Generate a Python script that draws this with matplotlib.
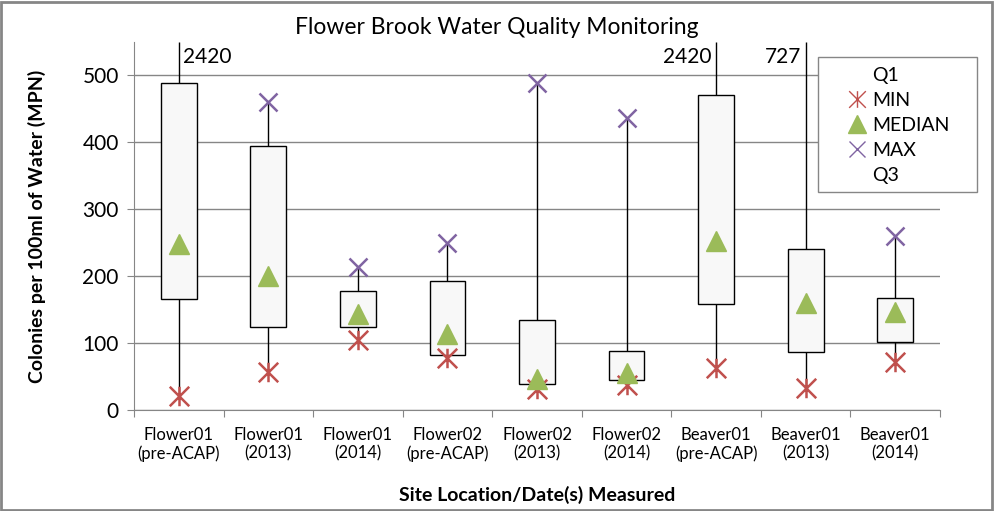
import matplotlib.pyplot as plt
import numpy as np
from matplotlib.path import Path
from matplotlib.patches import Rectangle
from matplotlib.lines import Line2D

plt.rcParams['font.family'] = ['Lato', 'DejaVu Sans']

# Data
sites = ['Flower01\n(pre-ACAP)', 'Flower01\n(2013)', 'Flower01\n(2014)',
         'Flower02\n(pre-ACAP)', 'Flower02\n(2013)', 'Flower02\n(2014)',
         'Beaver01\n(pre-ACAP)', 'Beaver01\n(2013)', 'Beaver01\n(2014)']
q1 = [166, 124, 124, 82, 39, 45, 159, 87, 102]
q3 = [488, 395, 178, 193, 135, 88, 471, 241, 168]
min_vals = [21, 57, 104, 78, 31, 37, 63, 33, 72]
median_vals = [248, 200, 143, 113, 47, 55, 252, 160, 147]
max_vals = [2420, 460, 214, 250, 488, 437, 2420, 727, 260]

red = '#c0504d'
green = '#9bbb59'
purple = '#8064a2'
grey = '#868686'

# asterisk marker: X plus vertical stroke
star = Path([(-1, -1), (1, 1), (-1, 1), (1, -1), (0, -1), (0, 1)],
            [Path.MOVETO, Path.LINETO, Path.MOVETO, Path.LINETO, Path.MOVETO, Path.LINETO])

fig = plt.figure(figsize=(9.94, 5.11), dpi=100)
ax = fig.add_axes([134 / 994, 101 / 511, (940 - 134) / 994, (410 - 42) / 511])

x = np.arange(len(sites))
ymax = 550

# whiskers min..max
ax.vlines(x, min_vals, np.minimum(max_vals, ymax), color='black', lw=1, zorder=2)
# boxes
for xi, lo, hi in zip(x, q1, q3):
    ax.add_patch(Rectangle((xi - 0.2, lo), 0.4, hi - lo, facecolor='#f8f8f8',
                           edgecolor='black', lw=1, zorder=3))

ax.plot(x, min_vals, ls='none', marker=star, ms=14, mew=1.8, color=red, zorder=4)
ax.plot(x, median_vals, ls='none', marker='^', ms=14, color=green, zorder=5)
mx = [m if m <= ymax else np.nan for m in max_vals]
ax.plot(x, mx, ls='none', marker='x', ms=13, mew=1.8, color=purple, zorder=4)

# labels for off-chart maximums
ax.text(0.05, 528, '2420', fontsize=15, ha='left', va='center')
ax.text(5.95, 528, '2420', fontsize=15, ha='right', va='center')
ax.text(6.95, 528, '727', fontsize=15, ha='right', va='center')

ax.set_xlim(-0.5, len(sites) - 0.5)
ax.set_ylim(0, ymax)
ax.set_yticks([0, 100, 200, 300, 400, 500])
ax.tick_params(axis='y', labelsize=15, length=5, color=grey, pad=6)
ax.set_xticks(np.arange(-0.5, len(sites), 1))
ax.set_xticklabels([])
ax.set_xticks(x, minor=True)
ax.set_xticklabels(sites, minor=True, fontsize=12)
ax.tick_params(axis='x', which='major', length=5, color=grey)
ax.tick_params(axis='x', which='minor', length=0, pad=12)
ax.grid(axis='y', color=grey, lw=1)
ax.set_axisbelow(True)
for s in ['top', 'right']:
    ax.spines[s].set_visible(False)
for s in ['left', 'bottom']:
    ax.spines[s].set_color(grey)

ax.set_ylabel('Colonies per 100ml of Water (MPN)', fontsize=14, fontweight='bold', labelpad=26)
ax.set_xlabel('Site Location/Date(s) Measured', fontsize=14, fontweight='bold', labelpad=17)
fig.text(0.5, 1 - 28 / 511, 'Flower Brook Water Quality Monitoring', fontsize=16.5,
         ha='center', va='center')

# legend frame drawn by hand
fig.patches.append(Rectangle((818 / 994, 1 - 192 / 511), (977 - 818) / 994, (192 - 57) / 511,
                             transform=fig.transFigure, facecolor='white', edgecolor=grey, lw=1, zorder=10))
handles = [
    Line2D([], [], ls='none'),
    Line2D([], [], ls='none', marker=star, ms=12, mew=1.0, color=red),
    Line2D([], [], ls='none', marker='^', ms=13, color=green),
    Line2D([], [], ls='none', marker='x', ms=12, mew=1.0, color=purple),
    Line2D([], [], ls='none'),
]
leg = fig.legend(handles, ['Q1', 'MIN', 'MEDIAN', 'MAX', 'Q3'], loc='upper left',
                 bbox_to_anchor=(836 / 994, 1 - 55 / 511), frameon=False, fontsize=14,
                 handlelength=1.0, handletextpad=0.25, labelspacing=0.42, borderpad=0.1)
leg.set_zorder(11)

# outer border
fig.patches.append(Rectangle((0.001, 0.002), 0.997, 0.995, transform=fig.transFigure,
                             facecolor='none', edgecolor=grey, lw=2))

fig.savefig('out.png', dpi=100)
